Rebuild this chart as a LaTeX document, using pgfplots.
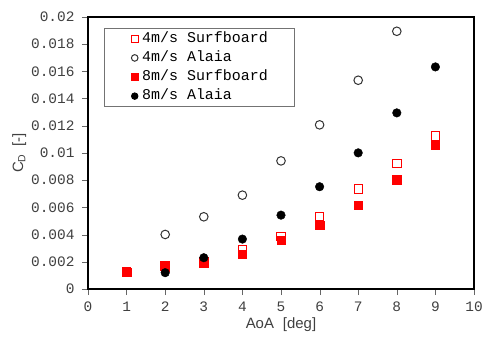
\documentclass[border=0pt]{standalone}
\usepackage{fontspec}
\setmainfont{Liberation Sans}
\newfontfamily\monofont{Liberation Mono}
\usepackage{pgfplots}
\pgfplotsset{compat=1.18}
\begin{document}
\begin{tikzpicture}
\begin{axis}[
  name=ax,
  scale only axis,
  width=386bp, height=272bp,
  xmin=0, xmax=10, ymin=0, ymax=0.02,
  xtick={0,1,...,10},
  ytick={0,0.002,0.004,0.006,0.008,0.01,0.012,0.014,0.016,0.018,0.02},
  yticklabels={0,0.002,0.004,0.006,0.008,0.01,0.012,0.014,0.016,0.018,0.02},
  scaled y ticks=false,
  /pgf/number format/assume math mode=true,
  tick label style={font=\monofont\fontsize{14.5}{14.5}\selectfont, text=black!75},
  yticklabel style={xshift=-4bp},
  xticklabel style={yshift=-3bp},
  tick align=outside,
  major tick length=6bp,
  tick style={black!60},
  xtick pos=bottom, ytick pos=left,
  axis line style={line width=1.6bp, black},
  xlabel={AoA\hspace{0.6em}[deg]},
  ylabel={C\textsubscript{D}\hspace{0.5em}[-]},
  label style={font=\fontsize{15}{15}\selectfont, text=black!75},
  ylabel style={yshift=-2bp},
  legend style={at={(0.041,0.96)}, anchor=north west, draw=black!55, line width=0.8bp,
    font=\monofont\fontsize{15}{15}\selectfont, inner xsep=20bp, inner ysep=1bp, row sep=0bp,
    nodes={text height=10.5bp, text depth=3bp, inner ysep=2.8bp, inner xsep=1bp}},
  legend cell align=left,
  legend image code/.code={\path (0bp,0bp) (16bp,0bp); \draw[#1,mark size=3.3bp] plot coordinates {(10bp,0bp)};},
]
\addplot[only marks, mark=square*, mark size=4.2bp, draw=red, fill=white, line width=1bp]
  coordinates {(1,0.0013)(2,0.0017)(3,0.0020)(4,0.00286)(5,0.00384)(6,0.00531)(7,0.00734)(8,0.00923)(9,0.01124)};
\addlegendentry{4m/s Surfboard\rule{6bp}{0bp}}
\addplot[only marks, mark=*, mark size=4.3bp, draw=black!80, fill=white, line width=1bp]
  coordinates {(2,0.00401)(3,0.00531)(4,0.0069)(5,0.00942)(6,0.01207)(7,0.01535)(8,0.01895)};
\addlegendentry{4m/s Alaia}
\addplot[only marks, mark=square*, mark size=4.2bp, draw=red, fill=red]
  coordinates {(1,0.00122)(2,0.00164)(3,0.00191)(4,0.00255)(5,0.0036)(6,0.0047)(7,0.00617)(8,0.00805)(9,0.01058)};
\addlegendentry{8m/s Surfboard\rule{6bp}{0bp}}
\addplot[only marks, mark=*, mark size=4.3bp, draw=black, fill=black]
  coordinates {(2,0.0012)(3,0.0023)(4,0.00367)(5,0.00543)(6,0.00752)(7,0.01001)(8,0.01295)(9,0.01633)};
\addlegendentry{8m/s Alaia}
\end{axis}
\pgfresetboundingbox
\path ([xshift=-88bp,yshift=-51bp]ax.south west) rectangle ([xshift=9bp,yshift=17bp]ax.north east);
\end{tikzpicture}
\end{document}
